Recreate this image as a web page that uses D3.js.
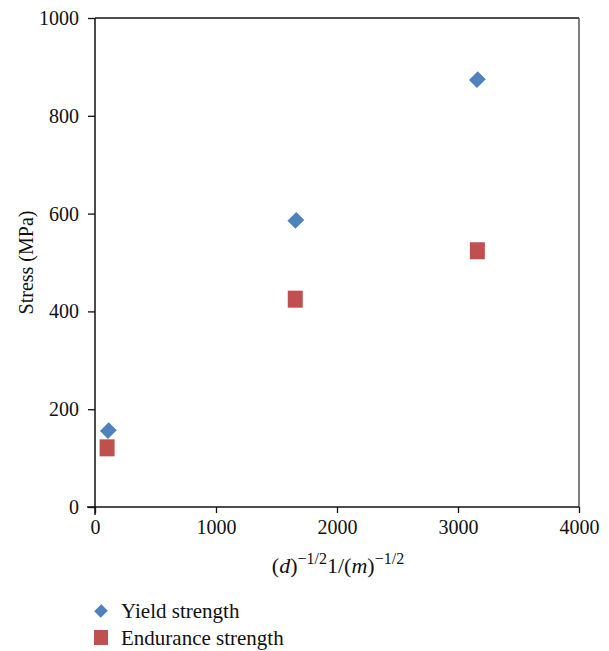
<!DOCTYPE html>
<html>
<head>
<meta charset="utf-8">
<script src="https://cdn.jsdelivr.net/npm/d3@7"></script>
<style>
  html, body { margin: 0; padding: 0; background: #fff; }
  svg { display: block; }
  text { font-family: "Liberation Serif", "DejaVu Serif", serif; fill: #111; }
</style>
</head>
<body>
<script>
// Grain-size measure (x) and stress values (MPa) for each series
const yieldX = [110, 1660, 3160];
const yieldY = [156, 586, 874];
const enduranceX = [100, 1655, 3160];
const enduranceY = [121, 425, 524];
const xTicks = [0, 1000, 2000, 3000, 4000];
const yTicks = [0, 200, 400, 600, 800, 1000];
const seriesNames = ["Yield strength", "Endurance strength"];
const seriesColors = ["#4F81BD", "#C0504D"];

const W = 609, H = 651;
const margin = { left: 95, right: 30, top: 18, bottom: 144 };

const svg = d3.select("body").append("svg").attr("width", W).attr("height", H);

const x = d3.scaleLinear().domain([0, 4000]).range([margin.left, W - margin.right]);
const y = d3.scaleLinear().domain([0, 1000]).range([H - margin.bottom, margin.top]);

// Frame: top and right border lines
svg.append("line")
  .attr("x1", x(0)).attr("x2", x(4000)).attr("y1", y(1000)).attr("y2", y(1000))
  .attr("stroke", "#111").attr("stroke-width", 1.5);
svg.append("line")
  .attr("x1", x(4000)).attr("x2", x(4000)).attr("y1", y(1000)).attr("y2", y(0))
  .attr("stroke", "#555").attr("stroke-width", 1.5);

// Axes
const xAxis = svg.append("g")
  .attr("transform", `translate(0,${y(0)})`)
  .call(d3.axisBottom(x).tickValues(xTicks).tickSize(6).tickPadding(7).tickFormat(d3.format("d")));
const yAxis = svg.append("g")
  .attr("transform", `translate(${x(0)},0)`)
  .call(d3.axisLeft(y).tickValues(yTicks).tickSize(7).tickPadding(9).tickFormat(d3.format("d")));

[xAxis, yAxis].forEach(g => {
  g.attr("font-size", null).attr("font-family", null);
  g.select(".domain").attr("stroke", "#111").attr("stroke-width", 1.5);
  g.selectAll(".tick line").attr("stroke", "#111").attr("stroke-width", 1.3);
  g.selectAll(".tick text")
    .style("font-family", '"Liberation Serif", "DejaVu Serif", serif')
    .style("font-size", "20px").attr("fill", "#111");
});
xAxis.select(".domain").attr("d", `M${x(0) - 8},0H${x(4000)}`);
yAxis.select(".domain").attr("d", `M0,${y(0) + 8}V${y(1000)}`);

// Axis titles
const xt = svg.append("text")
  .attr("x", 338).attr("y", 573)
  .attr("text-anchor", "middle")
  .style("font-size", "22px");
xt.append("tspan").text("(");
xt.append("tspan").attr("font-style", "italic").text("d");
xt.append("tspan").text(")");
xt.append("tspan").attr("dy", -9).style("font-size", "16px").text("\u22121/2");
xt.append("tspan").attr("dy", 9).text("1/(");
xt.append("tspan").attr("font-style", "italic").text("m");
xt.append("tspan").text(")");
xt.append("tspan").attr("dy", -9).style("font-size", "16px").text("\u22121/2");

svg.append("text")
  .attr("transform", `translate(33,${(y(0) + y(1000)) / 2}) rotate(-90)`)
  .attr("text-anchor", "middle")
  .style("font-size", "20px")
  .text("Stress (MPa)");

// Markers
const diamond = d3.symbol().type(d3.symbolSquare).size(128);
const yieldData = yieldX.map((v, i) => ({ x: v, y: yieldY[i] }));
const enduranceData = enduranceX.map((v, i) => ({ x: v, y: enduranceY[i] }));

svg.append("g").selectAll("path").data(yieldData).join("path")
  .attr("d", diamond)
  .attr("transform", d => `translate(${x(d.x)},${y(d.y)}) rotate(45) scale(1,1.1)`)
  .attr("fill", seriesColors[0]);

svg.append("g").selectAll("rect").data(enduranceData).join("rect")
  .attr("x", d => x(d.x) - 7.5).attr("y", d => y(d.y) - 8.5)
  .attr("width", 15).attr("height", 17)
  .attr("fill", seriesColors[1]);

// Legend
const legend = svg.append("g");
legend.append("path")
  .attr("d", d3.symbol().type(d3.symbolSquare).size(84))
  .attr("transform", "translate(101,611) rotate(45) scale(1,1.1)")
  .attr("fill", seriesColors[0]);
legend.append("rect")
  .attr("x", 94).attr("y", 630).attr("width", 14).attr("height", 15)
  .attr("fill", seriesColors[1]);
legend.append("text").attr("x", 121).attr("y", 618).style("font-size", "21px").text(seriesNames[0]);
legend.append("text").attr("x", 121).attr("y", 645).style("font-size", "21px").text(seriesNames[1]);
</script>
</body>
</html>
